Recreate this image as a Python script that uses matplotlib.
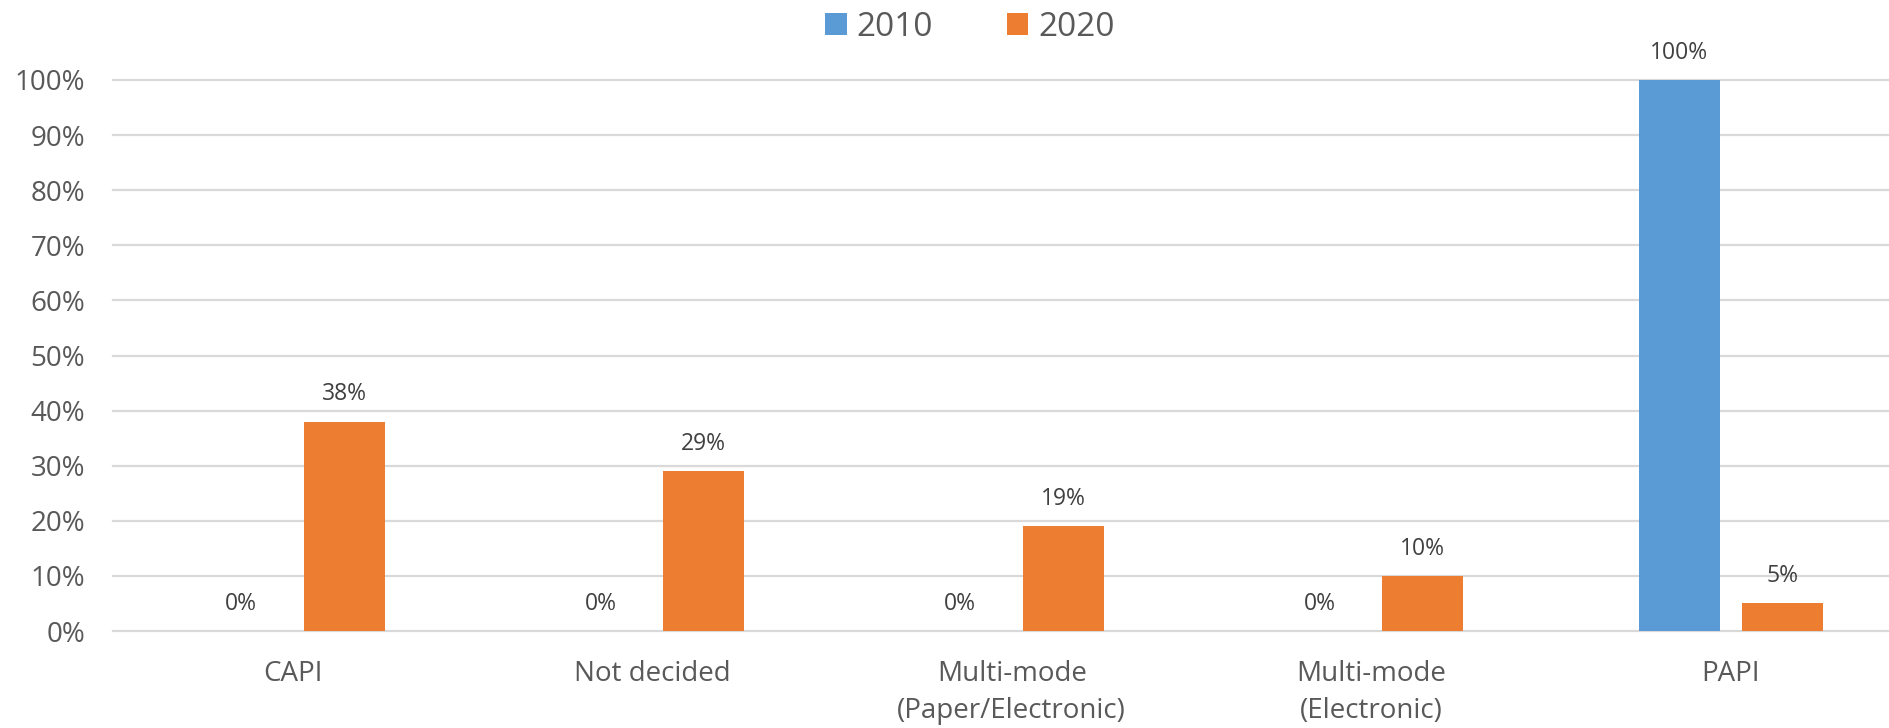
import matplotlib
matplotlib.use("Agg")
import matplotlib.pyplot as plt
import numpy as np

categories = ["CAPI", "Not decided", "Multi-mode\n(Paper/Electronic)", "Multi-mode\n(Electronic)", "PAPI"]
series_names = ["2010", "2020"]
values_2010 = [0, 0, 0, 0, 100]
values_2020 = [38, 29, 19, 10, 5]
yticks = [0, 10, 20, 30, 40, 50, 60, 70, 80, 90, 100]

colors = ["#5B9BD5", "#ED7D31"]
text_color = "#595959"
grid_color = "#D9D9D9"

plt.rcParams['font.family'] = ['Open Sans', 'DejaVu Sans']

fig = plt.figure(figsize=(18.9, 7.28), dpi=100)
ax = fig.add_axes([113/1890, 1 - 631/728, 1 - 113/1890, (631 - 80)/728])

x = np.arange(len(categories))
bw = 81/359.5
gap = 22/359.5
off = (bw + gap)/2

bars1 = ax.bar(x - off, values_2010, bw, color=colors[0], label=series_names[0], zorder=3)
bars2 = ax.bar(x + off, values_2020, bw, color=colors[1], label=series_names[1], zorder=3)

for bars, vals in ((bars1, values_2010), (bars2, values_2020)):
    for b, v in zip(bars, vals):
        ax.annotate(f"{v}%", (b.get_x() + b.get_width()/2, v), xytext=(0, 11),
                    textcoords="offset points", ha="center", va="bottom",
                    fontsize=16.5, color="#404040", annotation_clip=False)

ax.set_xlim(-0.5, (1890 - 113)/359.5 - 0.5)
ax.set_ylim(0, 100)
ax.set_yticks(yticks)
ax.set_yticklabels([f"{t}%" for t in yticks])
for t in yticks:
    ax.axhline(t, color=grid_color, lw=1.6, zorder=1, clip_on=False)

ax.set_xticks(x)
ax.set_xticklabels(categories, linespacing=1.42)
ax.tick_params(axis='both', length=0, colors=text_color)
ax.tick_params(axis='y', pad=20, labelsize=20)
ax.tick_params(axis='x', pad=21, labelsize=20)
for s in ax.spines.values():
    s.set_visible(False)

leg = fig.legend(handles=[bars1, bars2], labels=series_names, loc="center",
                 bbox_to_anchor=(970/1890, 1 - 27/728), ncol=2, frameon=False,
                 fontsize=24, handlelength=0.65, handleheight=0.65,
                 columnspacing=2.2, handletextpad=0.3, labelcolor=text_color)

fig.savefig("out.png", dpi=100)
